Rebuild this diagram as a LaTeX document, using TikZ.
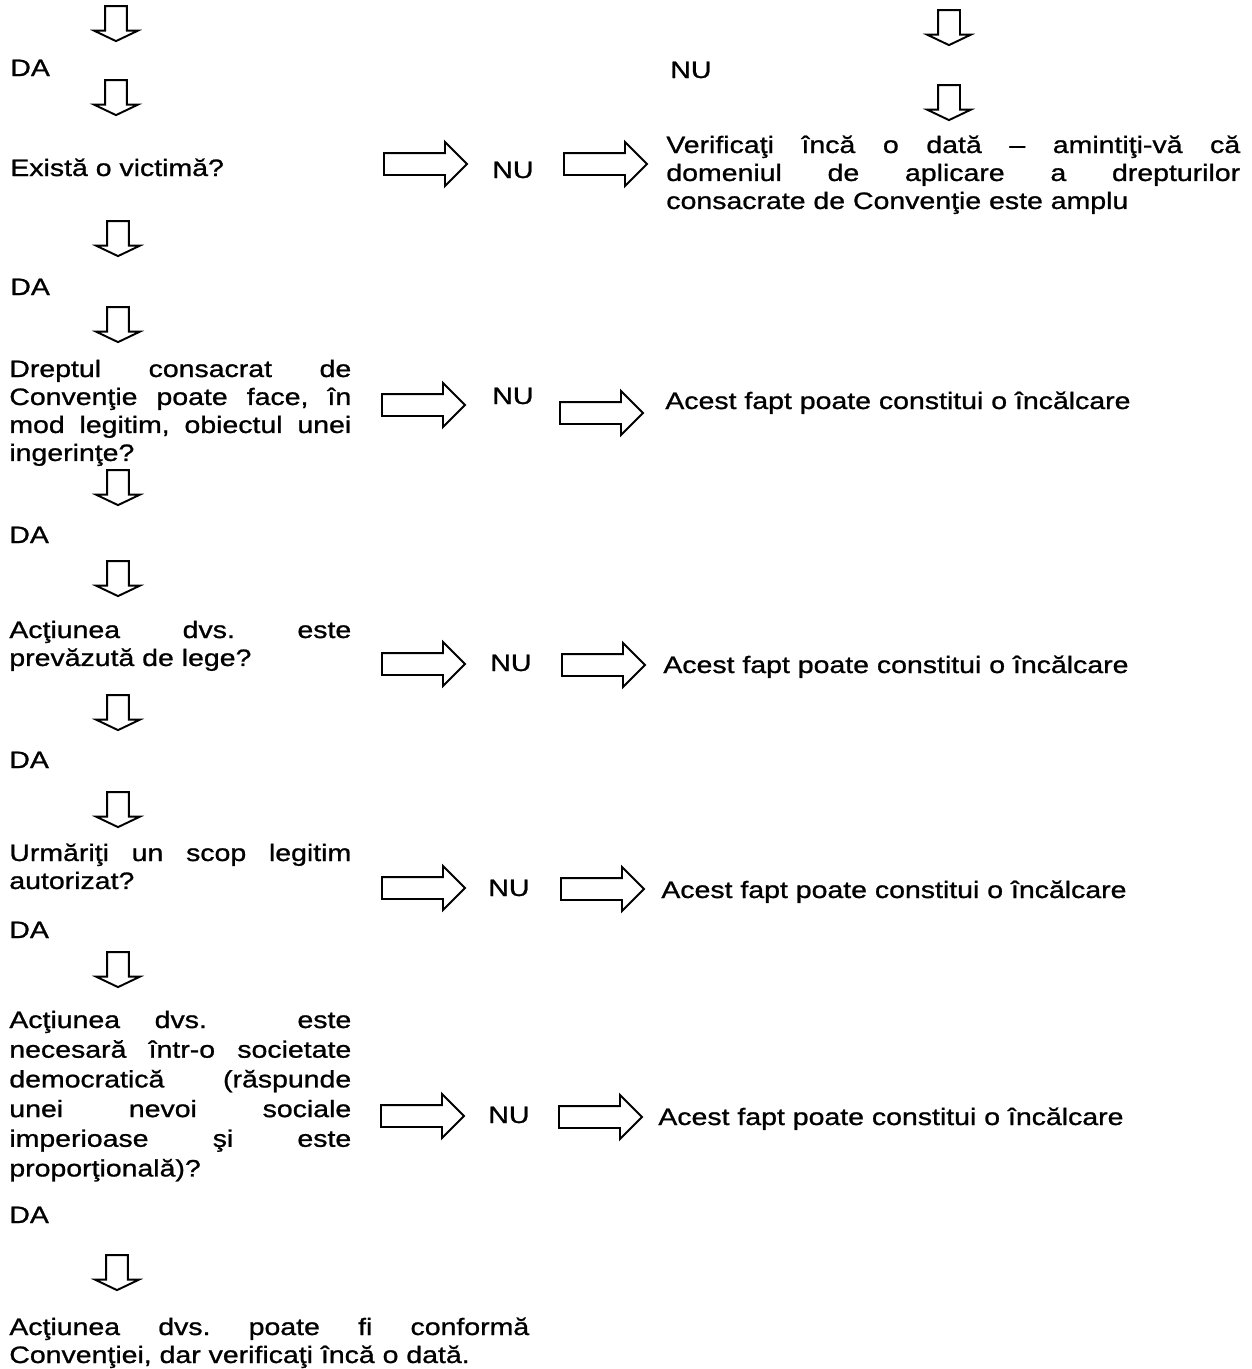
\documentclass[tikz,border=0pt]{standalone}
\usepackage{fontspec}
\setmainfont{Liberation Sans}[FakeStretch=1.2, FakeBold=1]
\usetikzlibrary{shapes.arrows}

\newcommand{\qfont}{\fontsize{13.5}{15.93}\selectfont\frenchspacing\hyphenpenalty=10000\exhyphenpenalty=10000\tolerance=9999}

\tikzset{
    blk/.style={draw, line width=1.1pt, single arrow, inner sep=0.2cm,
        minimum width=0pt, single arrow head extend=0.22cm},
    darrow/.style={blk, shape border rotate=270, minimum height=0.7cm, single arrow tip angle=129},
    rarrow/.style={blk, minimum height=1.66cm, single arrow tip angle=90},
    txt/.style={anchor=base west, inner sep=0pt, font=\qfont},
    question/.style={txt, text width=6.84cm, align=justify},
}

\begin{document}
\begin{tikzpicture}[x=0.02cm, y=-0.02cm]
    \useasboundingbox (0,0) rectangle (1251,1369);

    % left column
    \node[darrow] (d1) at (116,21) {};
    \node[txt] (da1) at (10,76) {DA};
    \node[darrow] (d2) at (116,95) {};
    \node[txt] (q1) at (10,176) {Există o victimă?};
    \node[darrow] (d3) at (118,236) {};
    \node[txt] (da2) at (10,295) {DA};
    \node[darrow] (d4) at (118,322) {};
    \node[question] (q2) at (9,377) {Dreptul consacrat de\linebreak Convenţie poate face, în\linebreak mod legitim, obiectul unei\linebreak ingerinţe?};
    \node[darrow] (d5) at (118,485) {};
    \node[txt] (da3) at (9,543) {DA};
    \node[darrow] (d6) at (118,576) {};
    \node[question] (q3) at (9,638) {Acţiunea dvs. este\linebreak prevăzută de lege?};
    \node[darrow] (d7) at (118,710) {};
    \node[txt] (da4) at (9,768) {DA};
    \node[darrow] (d8) at (118,807) {};
    \node[question] (q4) at (9,861) {Urmăriţi un scop legitim\linebreak autorizat?};
    \node[txt] (da5) at (9,938) {DA};
    \node[darrow] (d9) at (118,967) {};
    \node[question, font=\fontsize{13.5}{16.9}\selectfont] (q5) at (9,1028) {Acţiunea dvs. este\linebreak necesară într-o societate\linebreak democratică (răspunde\linebreak unei nevoi sociale\linebreak imperioase şi este\linebreak proporţională)?};
    \node[txt] (da6) at (9,1223) {DA};
    \node[darrow] (d10) at (117,1270) {};
    \node[txt, text width=10.4cm, align=justify] (q6) at (9,1335) {Acţiunea dvs. poate fi conformă\linebreak Convenţiei, dar verificaţi încă o dată.};

    % right column, top
    \node[darrow] (d11) at (949,25) {};
    \node[txt] (nu0) at (670,78) {NU};
    \node[darrow] (d12) at (949,100) {};

    % rows with NU
    \node[rarrow] (r1a) at (420,164) {};
    \node[txt] (nu1) at (492,178) {NU};
    \node[rarrow] (r1b) at (600,164) {};
    \node[txt, text width=11.48cm, align=justify] (res1) at (666,153) {Verificaţi încă o dată – amintiţi-vă că\linebreak domeniul de aplicare a drepturilor\linebreak consacrate de Convenţie este amplu};

    \node[rarrow] (r2a) at (418,405) {};
    \node[txt] (nu2) at (492,404) {NU};
    \node[rarrow] (r2b) at (596,413) {};
    \node[txt] (res2) at (665,409) {Acest fapt poate constitui o încălcare};

    \node[rarrow] (r3a) at (418,664) {};
    \node[txt] (nu3) at (490,671) {NU};
    \node[rarrow] (r3b) at (598,665) {};
    \node[txt] (res3) at (663,673) {Acest fapt poate constitui o încălcare};

    \node[rarrow] (r4a) at (418,888) {};
    \node[txt] (nu4) at (488,896) {NU};
    \node[rarrow] (r4b) at (597,889) {};
    \node[txt] (res4) at (661,898) {Acest fapt poate constitui o încălcare};

    \node[rarrow] (r5a) at (417,1116) {};
    \node[txt] (nu5) at (488,1123) {NU};
    \node[rarrow] (r5b) at (595,1117) {};
    \node[txt] (res5) at (658,1125) {Acest fapt poate constitui o încălcare};
\end{tikzpicture}
\end{document}
